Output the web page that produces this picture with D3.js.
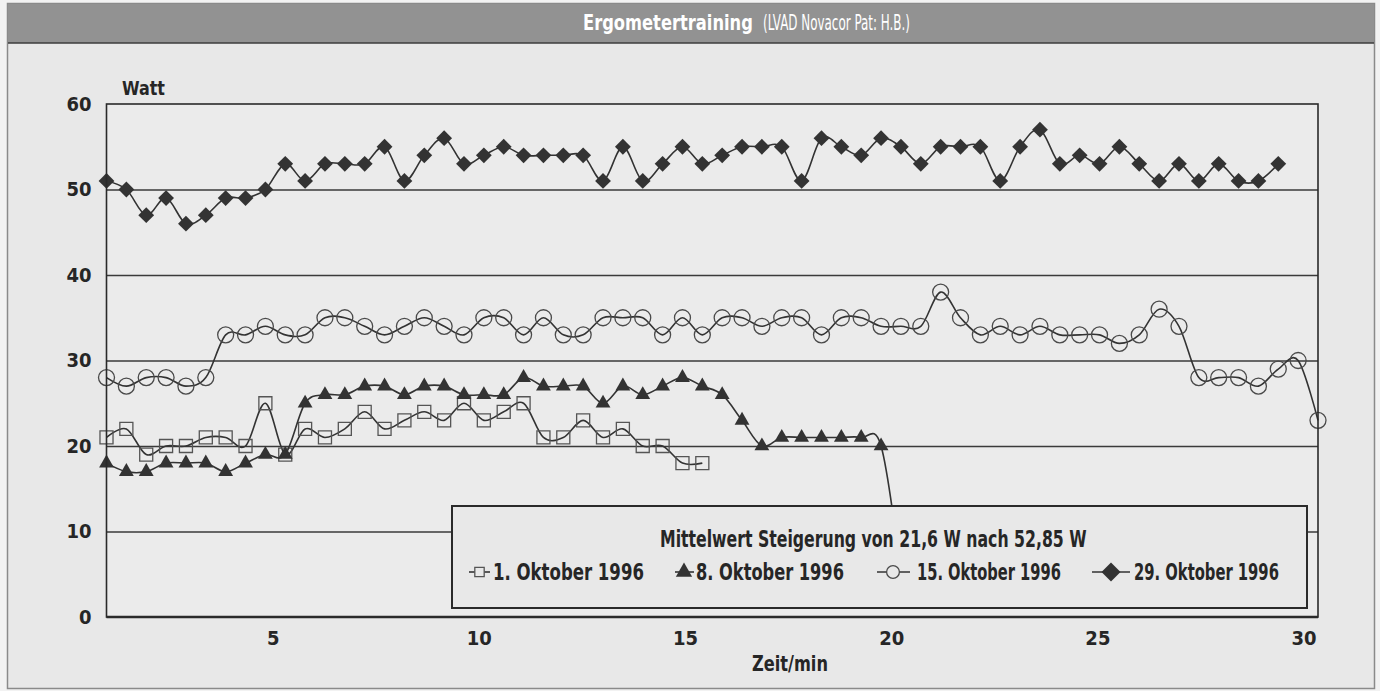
<!DOCTYPE html>
<html>
<head>
<meta charset="utf-8">
<title>Ergometertraining</title>
<script src="https://cdnjs.cloudflare.com/ajax/libs/d3/7.8.5/d3.min.js"></script>
<style>
  body { margin: 0; background: #f2f2f2; }
  svg text { font-family: "Liberation Sans Narrow", "DejaVu Sans Condensed", "Roboto Condensed", "Liberation Sans", sans-serif; font-stretch: condensed; fill: #262626; }
</style>
</head>
<body>
<div id="chart"></div>
<script>
// ---------------- data ----------------
const yTicks = [0, 10, 20, 30, 40, 50, 60];
const minuteTicks = [5, 10, 15, 20, 25, 30];

// one value per sample, samples are evenly spaced along the time axis
const okt01 = [21,22,19,20,20,21,21,20,25,19,22,21,22,24,22,23,24,23,25,23,24,25,21,21,23,21,22,20,20,18,18];
const okt08 = [18,17,17,18,18,18,17,18,19,19,25,26,26,27,27,26,27,27,26,26,26,28,27,27,27,25,27,26,27,28,27,26,23,20,21,21,21,21,21,20,5];
const okt15 = [28,27,28,28,27,28,33,33,34,33,33,35,35,34,33,34,35,34,33,35,35,33,35,33,33,35,35,35,33,35,33,35,35,34,35,35,33,35,35,34,
               34,34,38,35,33,34,33,34,33,33,33,32,33,36,34,28,28,28,27,29,30,23];
const okt29 = [51,50,47,49,46,47,49,49,50,53,51,53,53,53,55,51,54,56,53,54,55,54,54,54,54,51,55,51,53,55,53,54,55,55,55,51,56,55,54,56,
               55,53,55,55,55,51,55,57,53,54,53,55,53,51,53,51,53,51,51,53];

const seriesNames = ["1. Oktober 1996", "8. Oktober 1996", "15. Oktober 1996", "29. Oktober 1996"];
const seriesMarks = ["square", "triangle", "circle", "diamond"];
const legendTitle = "Mittelwert Steigerung von 21,6 W nach 52,85 W";

// ---------------- layout ----------------
const width = 1380, height = 691;
const margin = {top: 104, left: 106.5, right: 62, bottom: 74};
const W = width - margin.left - margin.right;
const H = height - margin.top - margin.bottom;
const ink = "#2a2a2a";
const paper = "#e8e8e8";

const svg = d3.select("#chart").append("svg")
    .attr("width", width)
    .attr("height", height);

// paper + frame
svg.append("rect").attr("x", 7.5).attr("y", 3.5).attr("width", 1367).attr("height", 685)
    .attr("fill", paper).attr("stroke", "#8a8a8a").attr("stroke-width", 1.5);
svg.append("rect").attr("x", 8).attr("y", 4).attr("width", 1366).attr("height", 39)
    .attr("fill", "#929292");
svg.append("line").attr("x1", 8).attr("x2", 1374).attr("y1", 43).attr("y2", 43)
    .attr("stroke", "#3c3c3c").attr("stroke-width", 1.5);

// condensed text: squeeze horizontally so the text spans `target` px
function label(parent, x0, y0, str, size, bold, target, anchor) {
  const grp = parent.append("g");
  const t = grp.append("text")
    .attr("text-anchor", anchor || "start")
    .style("font-size", size + "px")
    .style("font-weight", bold ? "bold" : "normal")
    .text(str);
  const w = t.node().getComputedTextLength();
  const s = target ? Math.min(1.15, target / w) : 1;
  grp.attr("transform", "translate(" + x0 + "," + y0 + ") scale(" + s + ",1)");
  return t;
}

// title
label(svg, 583, 30, "Ergometertraining", 22, true, 170).style("fill", "#fff");
label(svg, 763, 30, "(LVAD Novacor Pat: H.B.)", 22, false, 147).style("fill", "#fff");

const g = svg.append("g").attr("transform", "translate(" + margin.left + "," + margin.top + ")");

// ---------------- scales ----------------
const nSamples = okt15.length;
const x = d3.scaleLinear().domain([0, nSamples - 1]).range([0, W]);
const xMin = d3.scaleLinear().domain([0.97, 30.35]).range([0, W]);
const y = d3.scaleLinear().domain([0, 60]).range([H, 0]);

// plot background
g.append("rect").attr("width", W).attr("height", H).attr("fill", "#ebebeb");

// gridlines
g.append("g")
  .call(d3.axisLeft(y).tickValues(yTicks.slice(1, -1)).tickSize(-W).tickFormat(""))
  .call(a => a.select(".domain").remove())
  .call(a => a.selectAll("line").attr("stroke", "#3a3a3a").attr("stroke-width", 1.3));

// clip so the run-out of a curve stays inside the plot
g.append("clipPath").attr("id", "plotclip")
  .append("rect").attr("x", -10).attr("y", -10).attr("width", W + 20).attr("height", H + 10);

// ---------------- series ----------------
const line = d3.line()
  .x((d, i) => x(i))
  .y(d => y(d))
  .curve(d3.curveCatmullRom.alpha(0));

function drawMark(sel, type, scale) {
  scale = scale || 1;
  if (type === "circle") {
    sel.append("circle").attr("r", 8 * scale)
      .attr("fill", "none").attr("stroke", "#4a4a4a").attr("stroke-width", 1.3);
  } else if (type === "square") {
    sel.append("path").attr("d", d3.symbol(d3.symbolSquare, 170 * scale * scale)())
      .attr("fill", "none").attr("stroke", "#555").attr("stroke-width", 1.3);
  } else if (type === "triangle") {
    sel.append("path").attr("d", d3.symbol(d3.symbolTriangle, 95 * scale * scale)())
      .attr("fill", "#333");
  } else {
    sel.append("path").attr("d", d3.symbol(d3.symbolSquare, 125 * scale * scale)())
      .attr("transform", "rotate(45)").attr("fill", "#333");
  }
}

const allSeries = [okt01, okt08, okt15, okt29];
allSeries.forEach(function(vals, k) {
  const s = g.append("g").attr("clip-path", "url(#plotclip)");
  s.append("path").attr("d", line(vals))
    .attr("fill", "none").attr("stroke", "#333").attr("stroke-width", 1.6);
  s.selectAll("g.pt").data(vals).enter().append("g")
    .attr("class", "pt")
    .attr("transform", (d, i) => "translate(" + x(i) + "," + y(d) + ")")
    .each(function() { drawMark(d3.select(this), seriesMarks[k]); });
});

// frame of the plot
g.append("rect").attr("width", W).attr("height", H)
  .attr("fill", "none").attr("stroke", ink).attr("stroke-width", 1.6);
g.append("line").attr("x1", 0).attr("x2", W).attr("y1", H).attr("y2", H)
  .attr("stroke", ink).attr("stroke-width", 2.4);

// y labels
g.append("g")
  .call(d3.axisLeft(y).tickValues(yTicks).tickSize(0).tickPadding(15))
  .call(a => a.select(".domain").remove())
  .call(a => a.selectAll("text").style("font-size", "20px").style("font-weight", "bold")
      .style("font-family", null).attr("fill", ink));

// x labels
g.append("g").attr("transform", "translate(0," + H + ")")
  .call(d3.axisBottom(xMin).tickValues(minuteTicks).tickSize(0).tickPadding(14))
  .call(a => a.select(".domain").remove())
  .call(a => a.selectAll("text").style("font-size", "20px").style("font-weight", "bold")
      .style("font-family", null).attr("fill", ink));

label(svg, 122, 95, "Watt", 19, true, 43);
label(svg, 790, 671, "Zeit/min", 21, true, 76, "middle");

// ---------------- legend ----------------
const lg = svg.append("g");
lg.append("rect").attr("x", 452).attr("y", 506).attr("width", 855).attr("height", 102)
  .attr("fill", paper).attr("stroke", ink).attr("stroke-width", 2);
label(lg, 660, 547, legendTitle, 23, true, 427);

const legendItems = [
  {line: [469, 490], mark: 479.5, text: 493, tw: 151, scale: 0.72},
  {line: [675, 694], mark: 684, text: 696, tw: 148, scale: 1.1},
  {line: [877, 910], mark: 893, text: 917, tw: 144, scale: 0.8},
  {line: [1092, 1130], mark: 1111, text: 1134, tw: 145, scale: 1.2}
];
legendItems.forEach(function(it, k) {
  lg.append("line").attr("x1", it.line[0]).attr("x2", it.line[1]).attr("y1", 572).attr("y2", 572)
    .attr("stroke", "#333").attr("stroke-width", 1.6);
  const m = lg.append("g").attr("transform", "translate(" + it.mark + ",572)");
  drawMark(m, seriesMarks[k], it.scale);
  if (seriesMarks[k] === "circle" || seriesMarks[k] === "square") {
    m.select("*").attr("fill", paper);
  }
  label(lg, it.text, 580, seriesNames[k], 23, true, it.tw);
});
</script>
</body>
</html>
